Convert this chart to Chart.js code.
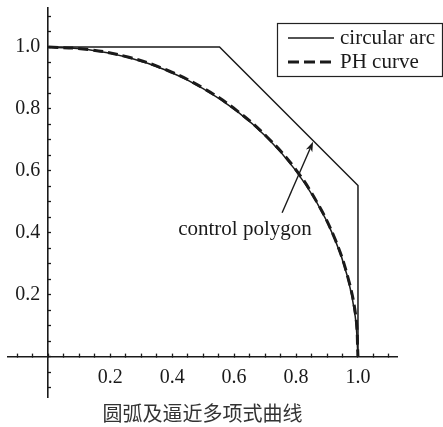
<!DOCTYPE html>
<html>
<head>
<meta charset="utf-8">
<script src="https://cdn.jsdelivr.net/npm/chart.js@4.4.1/dist/chart.umd.min.js"></script>
<style>
  html, body { margin: 0; padding: 0; background: #fff; }
  #wrap { width: 443px; height: 427px; }
</style>
</head>
<body>
<div id="wrap"><canvas id="c"></canvas></div>
<script>
// ---- data ----
const polygonX = [0, 0.553, 1.0, 1.0];
const polygonY = [1.0, 1.0, 0.553, 0.0];

const arcX = [0, 0.131, 0.259, 0.383, 0.500, 0.609, 0.707, 0.793, 0.866, 0.924, 0.966, 0.991, 1.0];
const arcY = [1.0, 0.991, 0.966, 0.924, 0.866, 0.793, 0.707, 0.609, 0.500, 0.383, 0.259, 0.131, 0.0];

const phX = [0, 0.130, 0.260, 0.384, 0.501, 0.610, 0.708, 0.795, 0.867, 0.925, 0.967, 0.993, 1.0];
const phY = [1.0, 0.992, 0.967, 0.925, 0.867, 0.794, 0.708, 0.610, 0.500, 0.382, 0.258, 0.130, 0.0];

const xTickLabels = ['0.2', '0.4', '0.6', '0.8', '1.0'];
const yTickLabels = ['0.2', '0.4', '0.6', '0.8', '1.0'];

const seriesNames = ['circular arc', 'PH curve', 'control polygon'];
const captionText = '圆弧及逼近多项式曲线';
const annotationText = 'control polygon';
const arrowFrom = [0.755, 0.465];
const arrowTo = [0.855, 0.694];
const annotationAt = [0.635, 0.41];

// ---- helpers ----
const toPts = (xs, ys) => xs.map((x, i) => ({ x: x, y: ys[i] }));
const SERIF = "'Liberation Serif', 'Times New Roman', serif";
const INK = '#1a1a1a';
const Y_LABEL_GAP = 8;

// positional y axes draw their labels right on the axis line; move them left of it
const yLabelGapPlugin = {
  id: 'yLabelGap',
  beforeDraw(chart) {
    const items = chart.scales.y.getLabelItems();
    if (!items._shifted) {
      items.forEach(it => { it.options.translation[0] -= Y_LABEL_GAP; });
      items._shifted = true;
    }
  }
};

const annotationPlugin = {
  id: 'annotationArrow',
  afterDatasetsDraw(chart) {
    const { ctx, scales: { x, y } } = chart;
    const x1 = x.getPixelForValue(arrowFrom[0]), y1 = y.getPixelForValue(arrowFrom[1]);
    const x2 = x.getPixelForValue(arrowTo[0]), y2 = y.getPixelForValue(arrowTo[1]);
    ctx.save();
    ctx.strokeStyle = INK; ctx.fillStyle = INK; ctx.lineWidth = 1.4;
    const ang = Math.atan2(y2 - y1, x2 - x1);
    const head = 10, half = 3.5;
    ctx.beginPath();
    ctx.moveTo(x1, y1);
    ctx.lineTo(x2 - Math.cos(ang) * head * 0.7, y2 - Math.sin(ang) * head * 0.7);
    ctx.stroke();
    ctx.beginPath();
    ctx.moveTo(x2, y2);
    ctx.lineTo(x2 - Math.cos(ang) * head - Math.sin(ang) * half, y2 - Math.sin(ang) * head + Math.cos(ang) * half);
    ctx.lineTo(x2 - Math.cos(ang) * head * 0.7, y2 - Math.sin(ang) * head * 0.7);
    ctx.lineTo(x2 - Math.cos(ang) * head + Math.sin(ang) * half, y2 - Math.sin(ang) * head - Math.cos(ang) * half);
    ctx.closePath();
    ctx.fill();
    ctx.font = '21px ' + SERIF;
    ctx.textAlign = 'center';
    ctx.textBaseline = 'middle';
    ctx.fillText(annotationText, x.getPixelForValue(annotationAt[0]), y.getPixelForValue(annotationAt[1]));
    ctx.restore();
  }
};

const boxedLegendPlugin = {
  id: 'boxedLegend',
  afterDraw(chart) {
    const { ctx, chartArea } = chart;
    const left = chartArea.right - 120, top = chartArea.top + 15;
    const w = 165, h = 53;
    ctx.save();
    ctx.strokeStyle = '#222'; ctx.lineWidth = 1.2; ctx.setLineDash([]);
    ctx.strokeRect(left + 0.5, top + 0.5, w, h);
    const items = chart.data.datasets.filter(d => d.legendRank !== undefined)
      .sort((a, b) => a.legendRank - b.legendRank);
    items.forEach((d, i) => {
      const yy = top + 15 + i * 24;
      ctx.strokeStyle = d.borderColor;
      ctx.lineWidth = d.borderWidth;
      ctx.setLineDash(d.legendDash || []);
      ctx.beginPath();
      ctx.moveTo(left + 11, yy);
      ctx.lineTo(left + 57, yy);
      ctx.stroke();
      ctx.setLineDash([]);
      ctx.fillStyle = INK;
      ctx.font = '21px ' + SERIF;
      ctx.textAlign = 'left';
      ctx.textBaseline = 'middle';
      ctx.fillText(d.label, left + 63, yy);
    });
    ctx.restore();
  }
};

const tickLabel = (list) => (v) => {
  const r = Math.round(v * 100) / 100;
  const s = r.toFixed(1);
  return (Math.abs(parseFloat(s) - r) < 1e-9 && list.includes(s)) ? s : '';
};
const noSpace = (horizontal) => (s) => {
  if (horizontal) s.height = 0; else s.width = 0;
  s.paddingTop = 0; s.paddingBottom = 0; s.paddingLeft = 0; s.paddingRight = 0;
};

new Chart(document.getElementById('c'), {
  type: 'scatter',
  data: {
    datasets: [
      {
        label: seriesNames[1], data: toPts(phX, phY), showLine: true,
        borderColor: INK, borderWidth: 3, borderDash: [10, 5], legendDash: [11, 5],
        pointRadius: 0, tension: 0.4, fill: false, order: 0, legendRank: 1
      },
      {
        label: seriesNames[0], data: toPts(arcX, arcY), showLine: true,
        borderColor: INK, borderWidth: 1.5, pointRadius: 0, tension: 0.4,
        fill: false, order: 1, legendRank: 0
      },
      {
        label: seriesNames[2], data: toPts(polygonX, polygonY), showLine: true,
        borderColor: INK, borderWidth: 1.5, pointRadius: 0, tension: 0,
        fill: false, order: 2
      }
    ]
  },
  options: {
    responsive: true,
    maintainAspectRatio: false,
    animation: false,
    devicePixelRatio: 1,
    layout: { padding: { left: 8, right: 46, top: 8, bottom: 2 } },
    plugins: {
      legend: { display: false },
      tooltip: { enabled: false },
      title: {
        display: true, position: 'bottom', text: captionText,
        color: '#333', padding: { top: 4, bottom: 0 },
        font: { family: "'Noto Sans CJK SC', sans-serif", size: 20, weight: 'normal', lineHeight: 1.2 }
      }
    },
    scales: {
      x: {
        type: 'linear', min: -0.13, max: 1.126,
        position: { y: 0 },
        afterFit: noSpace(true),
        border: { display: true, color: INK, width: 1.6 },
        grid: { display: true, drawOnChartArea: false, drawTicks: true, tickLength: -4, tickColor: INK, tickWidth: 1.3 },
        ticks: {
          stepSize: 0.05, includeBounds: false, autoSkip: false, maxRotation: 0, padding: 13,
          color: INK, font: { family: SERIF, size: 20 },
          callback: tickLabel(xTickLabels)
        }
      },
      y: {
        type: 'linear', min: -0.13, max: 1.126,
        position: { x: 0 },
        afterFit: noSpace(false),
        border: { display: true, color: INK, width: 1.6 },
        grid: { display: true, drawOnChartArea: false, drawTicks: true, tickLength: -4, tickColor: INK, tickWidth: 1.3 },
        ticks: {
          stepSize: 0.05, includeBounds: false, autoSkip: false, padding: 12,
          color: INK, font: { family: SERIF, size: 20 },
          callback: tickLabel(yTickLabels)
        }
      }
    }
  },
  plugins: [yLabelGapPlugin, annotationPlugin, boxedLegendPlugin]
});
</script>
</body>
</html>
